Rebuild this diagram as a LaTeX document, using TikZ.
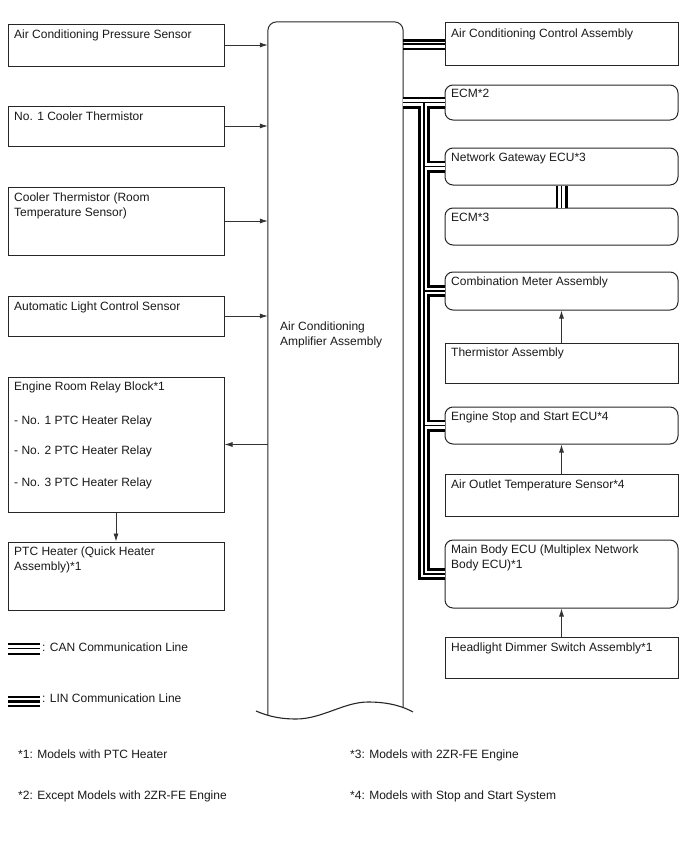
\documentclass[tikz,border=0pt]{standalone}
\usepackage{fontspec}
\setmainfont{Liberation Sans}
\usetikzlibrary{arrows.meta,calc}
\begin{document}
\begin{tikzpicture}[x=1pt,y=-1pt,
  box/.style={draw=black!85, line width=1pt, minimum width=216pt, inner sep=0pt},
  rbox/.style={box, rounded corners=8pt},
  lbl/.style={font=\fontsize{12}{15}\selectfont, text=black!90, inner sep=0pt, anchor=base west},
  arr/.style={line width=0.8pt, black!80, -{Latex[length=8pt,width=5pt]}},
]
\useasboundingbox (0,0) rectangle (688,852);

% ---------- left column ----------
\node[box, minimum height=42pt] (pres)  at (116,45)    {};
\node[box, minimum height=40pt] (cool1) at (116,126)   {};
\node[box, minimum height=68pt] (room)  at (116,221)   {};
\node[box, minimum height=40pt] (light) at (116,316)   {};
\node[box, minimum height=135pt] (relay) at (116,444.5) {};
\node[box, minimum height=68pt] (ptc)   at (116,576)   {};

\node[lbl] (presL)  at ([shift={(6.5,14.5)}]pres.north west)  {Air Conditioning Pressure Sensor};
\node[lbl] (cool1L) at ([shift={(6.5,14.5)}]cool1.north west) {No. 1 Cooler Thermistor};
\node[lbl] (roomL1) at ([shift={(6.5,14.5)}]room.north west)  {Cooler Thermistor (Room};
\node[lbl] (roomL2) at ([shift={(6.5,29.5)}]room.north west)  {Temperature Sensor)};
\node[lbl] (lightL) at ([shift={(6.5,14.5)}]light.north west) {Automatic Light Control Sensor};
\node[lbl] (relayL1) at ([shift={(6.5,13.5)}]relay.north west) {Engine Room Relay Block*1};
\node[lbl] (relayL2) at ([shift={(6.5,48)}]relay.north west)   {- No. 1 PTC Heater Relay};
\node[lbl] (relayL3) at ([shift={(6.5,78)}]relay.north west)   {- No. 2 PTC Heater Relay};
\node[lbl] (relayL4) at ([shift={(6.5,110)}]relay.north west)  {- No. 3 PTC Heater Relay};
\node[lbl] (ptcL1)  at ([shift={(6.5,13.5)}]ptc.north west)   {PTC Heater (Quick Heater};
\node[lbl] (ptcL2)  at ([shift={(6.5,28.5)}]ptc.north west)   {Assembly)*1};

% ---------- amplifier ----------
\node[minimum width=135pt, minimum height=693pt, inner sep=0pt] (amp) at (335.5,368.5) {};
\draw[line width=1pt, black!85, rounded corners=9pt]
  (amp.south west) -- (amp.north west) -- (amp.north east) -- ([yshift=8pt]amp.south east);
\draw[line width=1.1pt, black!85]
  (256,711) .. controls (270,717) and (282,719) .. (296,719)
  .. controls (322,719) and (344,702) .. (368,702)
  .. controls (390,702) and (404,707) .. (413,712);
\node[lbl] (ampL1) at (280,330) {Air Conditioning};
\node[lbl] (ampL2) at (280,345) {Amplifier Assembly};

% ---------- right column ----------
\node[box,  minimum width=233pt, minimum height=43pt] (acc)   at (561.5,43.5)  {};
\node[rbox, minimum width=233pt, minimum height=35pt] (ecm2)  at (561.5,102.5) {};
\node[rbox, minimum width=233pt, minimum height=37pt] (ng)    at (561.5,166.5) {};
\node[rbox, minimum width=233pt, minimum height=37pt] (ecm3)  at (561.5,226.5) {};
\node[rbox, minimum width=233pt, minimum height=38pt] (cm)    at (561.5,291)   {};
\node[box,  minimum width=233pt, minimum height=40pt] (therm) at (561.5,363)   {};
\node[rbox, minimum width=233pt, minimum height=37pt] (es)    at (561.5,425.5) {};
\node[box,  minimum width=233pt, minimum height=42pt] (aot)   at (561.5,495)   {};
\node[rbox, minimum width=233pt, minimum height=68pt] (mb)    at (561.5,574)   {};
\node[box,  minimum width=233pt, minimum height=41pt] (hd)    at (561.5,657.5) {};

\node[lbl] (accL)   at ([shift={(6.5,16)}]acc.north west)     {Air Conditioning Control Assembly};
\node[lbl] (ecm2L)  at ([shift={(6.5,12.5)}]ecm2.north west)  {ECM*2};
\node[lbl] (ngL)    at ([shift={(6.5,13.5)}]ng.north west)    {Network Gateway ECU*3};
\node[lbl] (ecm3L)  at ([shift={(6.5,14)}]ecm3.north west)    {ECM*3};
\node[lbl] (cmL)    at ([shift={(6.5,14)}]cm.north west)      {Combination Meter Assembly};
\node[lbl] (thermL) at ([shift={(6.5,13.5)}]therm.north west) {Thermistor Assembly};
\node[lbl] (esL)    at ([shift={(6.5,13.5)}]es.north west)    {Engine Stop and Start ECU*4};
\node[lbl] (aotL)   at ([shift={(6.5,15)}]aot.north west)     {Air Outlet Temperature Sensor*4};
\node[lbl] (mbL1)   at ([shift={(6.5,14)}]mb.north west)      {Main Body ECU (Multiplex Network};
\node[lbl] (mbL2)   at ([shift={(6.5,28.5)}]mb.north west)    {Body ECU)*1};
\node[lbl] (hdL)    at ([shift={(6.5,15)}]hd.north west)      {Headlight Dimmer Switch Assembly*1};

% ---------- arrows ----------
\draw[arr] (pres.east)  -- (pres.east -| amp.west);
\draw[arr] (cool1.east) -- (cool1.east -| amp.west);
\draw[arr] (room.east)  -- (room.east -| amp.west);
\draw[arr] (light.east) -- (light.east -| amp.west);
\draw[arr] (amp.west |- relay.east) -- (relay.east);
\draw[arr] (relay.south) -- (ptc.north);
\draw[arr] (therm.north) -- (cm.south);
\draw[arr] (aot.north) -- (es.south);
\draw[arr] (hd.north) -- (mb.south);

% ---------- CAN bus ----------
\coordinate (bx) at (424,0);
\foreach \w/\c in {12/black,6.4/white,1.3/black}{
  \draw[line width=\w pt, draw=\c, line join=miter]
    (amp.east |- ecm2.west) -- (ecm2.west)
    (bx |- ecm2.west) -- (bx |- mb.west) -- (mb.west)
    (bx |- ng.west) -- (ng.west)
    (bx |- cm.west) -- (cm.west)
    (bx |- es.west) -- (es.west)
    (ng.south) -- (ecm3.north);
}

% ---------- LIN line to control assembly ----------
\coordinate (accA) at (amp.east |- acc.west);
\draw[line width=2.4pt, black] ([yshift=3pt]accA) -- ([yshift=3pt]acc.west);
\draw[line width=2.2pt, black] ([yshift=-0.5pt]accA) -- ([yshift=-0.5pt]acc.west);
\draw[line width=1.2pt, black] ([yshift=-5.5pt]accA) -- ([yshift=-5.5pt]acc.west);

% ---------- legend ----------
\draw[line width=2.2pt] (8,644) -- (40,644);
\draw[line width=1.4pt] (8,648.5) -- (40,648.5);
\draw[line width=2.8pt] (8,654) -- (40,654);
\node[lbl] (canL) at (42,651) {: CAN Communication Line};
\draw[line width=2.8pt] (8,697) -- (40,697);
\draw[line width=2.2pt] (8,701.5) -- (40,701.5);
\draw[line width=1.2pt] (8,706) -- (40,706);
\node[lbl] (linL) at (42,702) {: LIN Communication Line};

% ---------- footnotes ----------
\node[lbl] (n1) at (18,758)  {*1: Models with PTC Heater};
\node[lbl] (n2) at (18,799)  {*2: Except Models with 2ZR-FE Engine};
\node[lbl] (n3) at (350,758) {*3: Models with 2ZR-FE Engine};
\node[lbl] (n4) at (350,799) {*4: Models with Stop and Start System};
\end{tikzpicture}
\end{document}
